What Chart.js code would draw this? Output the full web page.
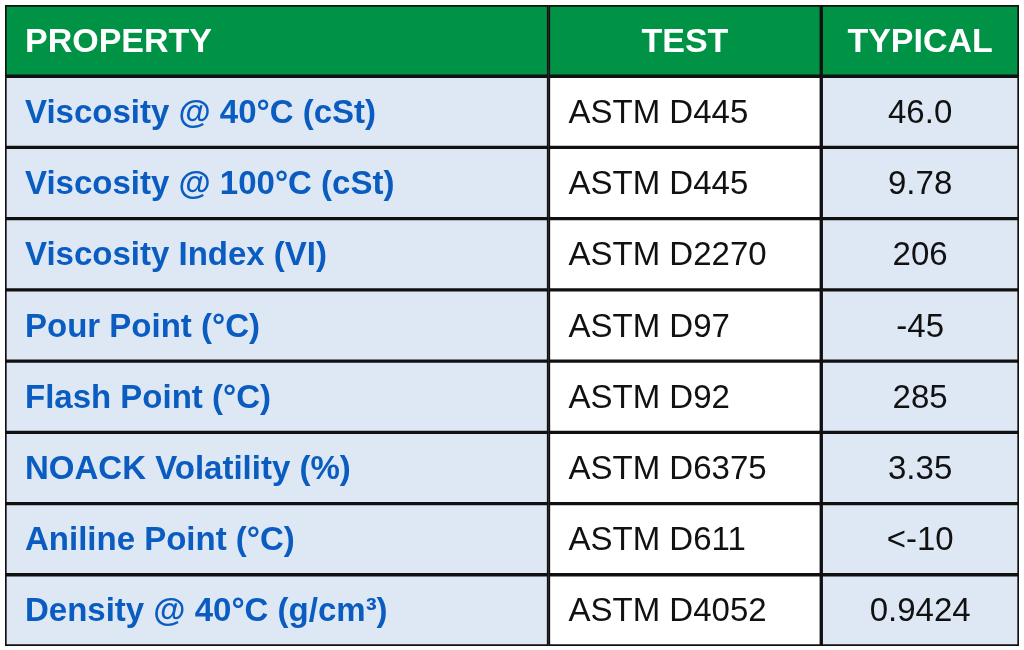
<!DOCTYPE html>
<html>
<head>
<meta charset="utf-8">
<script src="https://cdn.jsdelivr.net/npm/chart.js@4/dist/chart.umd.min.js"></script>
<style>
  html, body { margin: 0; padding: 0; background: #fff; font-family: "Liberation Sans"; }
  .preload { position: absolute; left: -9999px; font-family: "Liberation Sans"; }
</style>
</head>
<body>
<span class="preload">a</span><span class="preload" style="font-weight:bold">a</span>
<canvas id="table" width="1024" height="650"></canvas>
<script>
const headers = ['PROPERTY', 'TEST', 'TYPICAL']
const properties = ['Viscosity @ 40°C (cSt)', 'Viscosity @ 100°C (cSt)', 'Viscosity Index (VI)', 'Pour Point (°C)',
  'Flash Point (°C)', 'NOACK Volatility (%)', 'Aniline Point (°C)', 'Density @ 40°C (g/cm³)']
const tests = ['ASTM D445', 'ASTM D445', 'ASTM D2270', 'ASTM D97', 'ASTM D92', 'ASTM D6375', 'ASTM D611', 'ASTM D4052']
const typicals = ['46.0', '9.78', '206', '-45', '285', '3.35', '<-10', '0.9424']

// column edges, as fractions of the table width
const colEdges = [0, 0.536, 0.805, 1]
const rows = ['header', ...properties]
const green = '#009245'
const blue = '#dde8f4'

const columnColors = [blue, '#ffffff', blue]
const datasets = headers.map((h, c) => ({
  label: h,
  data: rows.map(() => [colEdges[c], colEdges[c + 1]]),
  backgroundColor: rows.map((r, i) => (i === 0 ? green : columnColors[c])),
  borderColor: '#111',
  borderWidth: 2,
  borderSkipped: false,
  barPercentage: 1,
  categoryPercentage: 1,
  grouped: false,
}))

const cellText = {
  id: 'cellText',
  afterDatasetsDraw(chart) {
    const { ctx, scales: { x, y } } = chart
    ctx.save()
    ctx.textBaseline = 'middle'
    rows.forEach((r, i) => {
      const cy = y.getPixelForValue(i) + 2
      const cells = i === 0 ? headers : [properties[i - 1], tests[i - 1], typicals[i - 1]]
      cells.forEach((t, c) => {
        const left = x.getPixelForValue(colEdges[c])
        const right = x.getPixelForValue(colEdges[c + 1])
        if (i === 0) {
          ctx.font = 'bold 34px "Liberation Sans"'
          ctx.fillStyle = '#fff'
        } else if (c === 0) {
          ctx.font = 'bold 33px "Liberation Sans"'
          ctx.fillStyle = '#0b5cc0'
        } else {
          ctx.font = '33px "Liberation Sans"'
          ctx.fillStyle = '#111'
        }
        if (c === 0 || (c === 1 && i > 0)) {
          ctx.textAlign = 'left'
          ctx.fillText(t, left + 20, cy)
        } else {
          ctx.textAlign = 'center'
          ctx.fillText(t, (left + right) / 2, cy)
        }
      })
    })
    ctx.restore()
  },
}

function draw() {
  new Chart(document.getElementById('table'), {
    type: 'bar',
    data: { labels: rows, datasets },
    options: {
      indexAxis: 'y',
      responsive: false,
      animation: false,
      layout: { padding: { left: 5, right: 5, top: 5, bottom: 4 } },
      scales: {
        x: { type: 'linear', min: 0, max: 1, display: false },
        y: { type: 'category', display: false, offset: true },
      },
      plugins: { legend: { display: false }, tooltip: { enabled: false } },
    },
    plugins: [cellText],
  })
}

Promise.all([
  document.fonts.load('33px "Liberation Sans"'),
  document.fonts.load('bold 33px "Liberation Sans"'),
]).then(draw, draw)
</script>
</body>
</html>
